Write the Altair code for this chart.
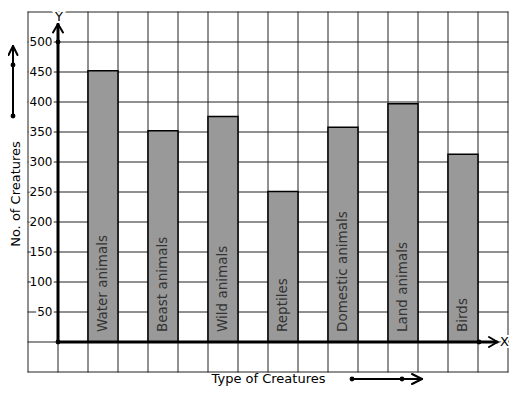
import altair as alt
import pandas as pd

# ---- data ----
categories = ["Water animals", "Beast animals", "Wild animals", "Reptiles",
              "Domestic animals", "Land animals", "Birds"]
counts = [452, 352, 376, 251, 358, 397, 313]
tick_values = [50, 100, 150, 200, 250, 300, 350, 400, 450, 500]
tick_labels = [str(v) for v in tick_values]
x_title = "Type of Creatures"
y_title = "No. of Creatures"

FONT = "DejaVu Sans"
XS = alt.Scale(domain=[-1, 15], nice=False, zero=False)
YS = alt.Scale(domain=[-50, 550], nice=False, zero=False)

# helpers: reference-pixel -> data units (decorations only)
def xd(px):
    return (px - 59) / 30.0

def yd(py):
    return (343 - py) / 0.6


def rules(rows, width=1.0, color="#222"):
    df = pd.DataFrame(rows, columns=["x", "x2", "y", "y2"])
    return alt.Chart(df).mark_rule(stroke=color, strokeWidth=width, strokeCap="round").encode(
        x=alt.X("x:Q", scale=XS, axis=None), x2="x2:Q",
        y=alt.Y("y:Q", scale=YS, axis=None), y2="y2:Q")


def dots(rows):
    df = pd.DataFrame(rows, columns=["x", "y"])
    return alt.Chart(df).mark_circle(size=24, color="black", opacity=1).encode(
        x=alt.X("x:Q", scale=XS, axis=None), y=alt.Y("y:Q", scale=YS, axis=None))


def texts(rows, halo=False, **kw):
    df = pd.DataFrame(rows, columns=["x", "y", "t"])
    props = dict(font=FONT)
    props.update(kw)
    if halo:
        props.update(stroke="white", strokeWidth=4, fill="white")
    return alt.Chart(df).mark_text(**props).encode(
        x=alt.X("x:Q", scale=XS, axis=None), y=alt.Y("y:Q", scale=YS, axis=None),
        text="t:N")


# grid
hgrid = rules([(-1, 15, v, v) for v in range(-50, 551, 50)])
vgrid = rules([(k, k, -50, 550) for k in range(-1, 16)])

# tick labels with white halo behind
tick_rows = [(xd(53.5), v, s) for v, s in zip(tick_values, tick_labels)]
tick_halo = texts(tick_rows, halo=True, align="right", baseline="middle", fontSize=12)
tick_text = texts(tick_rows, align="right", baseline="middle", fontSize=12, color="black")

# bars
bar_df = pd.DataFrame({
    "cat": categories,
    "count": counts,
    "x": [1 + 2 * i for i in range(len(categories))],
    "x2": [2 + 2 * i for i in range(len(categories))],
    "mid": [1.5 + 2 * i for i in range(len(categories))],
    "base": [0] * len(categories),
    "lab": [yd(333)] * len(categories),
})
bars = alt.Chart(bar_df).mark_rect(fill="#999999", stroke="black", strokeWidth=1.5).encode(
    x=alt.X("x:Q", scale=XS, axis=None), x2="x2:Q",
    y=alt.Y("base:Q", scale=YS, axis=None), y2="count:Q")
bar_labels = alt.Chart(bar_df).mark_text(
    angle=270, align="left", baseline="middle", font=FONT, fontSize=13.5, color="#333333"
).encode(x=alt.X("mid:Q", scale=XS, axis=None), y=alt.Y("lab:Q", scale=YS, axis=None), text="cat:N")

# axes
axes = rules([(0, 0, 0, yd(25)), (0, xd(498), 0, 0)], width=3, color="black")
heads = rules([
    (xd(54), 0, yd(33.5), yd(25)), (xd(64), 0, yd(33.5), yd(25)),
    (xd(490), xd(498.5), yd(338), 0), (xd(490), xd(498.5), yd(348), 0),
], width=2, color="black")

# side arrows
AX = 14
BY = 380
side = rules([
    (xd(AX), xd(AX), yd(117), yd(47)),
    (xd(AX - 4.5), xd(AX), yd(56), yd(47)), (xd(AX + 4.5), xd(AX), yd(56), yd(47)),
    (xd(353), xd(423), yd(BY), yd(BY)),
    (xd(413), xd(423), yd(BY - 5), yd(BY)), (xd(413), xd(423), yd(BY + 5), yd(BY)),
], width=2, color="black")

pts = dots([(0, 500), (0, 0), (xd(480), 0), (xd(AX), yd(66)), (xd(AX), yd(117)),
            (xd(353), yd(BY)), (xd(403), yd(BY))])

# axis letters with halo
letters = [(xd(60), yd(17.5), "Y"), (xd(505.5), 0, "X")]
letter_halo = texts(letters, halo=True, align="center", baseline="middle", fontSize=13)
letter_text = texts(letters, align="center", baseline="middle", fontSize=13, color="black")

xtitle = texts([(xd(269.5), yd(384), x_title)], align="center", baseline="alphabetic",
               fontSize=13, color="black")
ytitle = texts([(xd(16.5), yd(195), y_title)], align="center", baseline="middle",
               fontSize=13, color="black", angle=270)

chart = alt.layer(
    hgrid, tick_halo, vgrid, bars, bar_labels, axes, heads, side, pts,
    tick_text, letter_halo, letter_text, xtitle, ytitle
).properties(
    width=480, height=360,
    padding={"left": 20, "top": 4, "right": 1, "bottom": 14},
    autosize=alt.AutoSizeParams(type="none"),
    background="white",
).configure_view(stroke=None)

chart.save("out.html", embed_options={"renderer": "svg", "actions": False})
